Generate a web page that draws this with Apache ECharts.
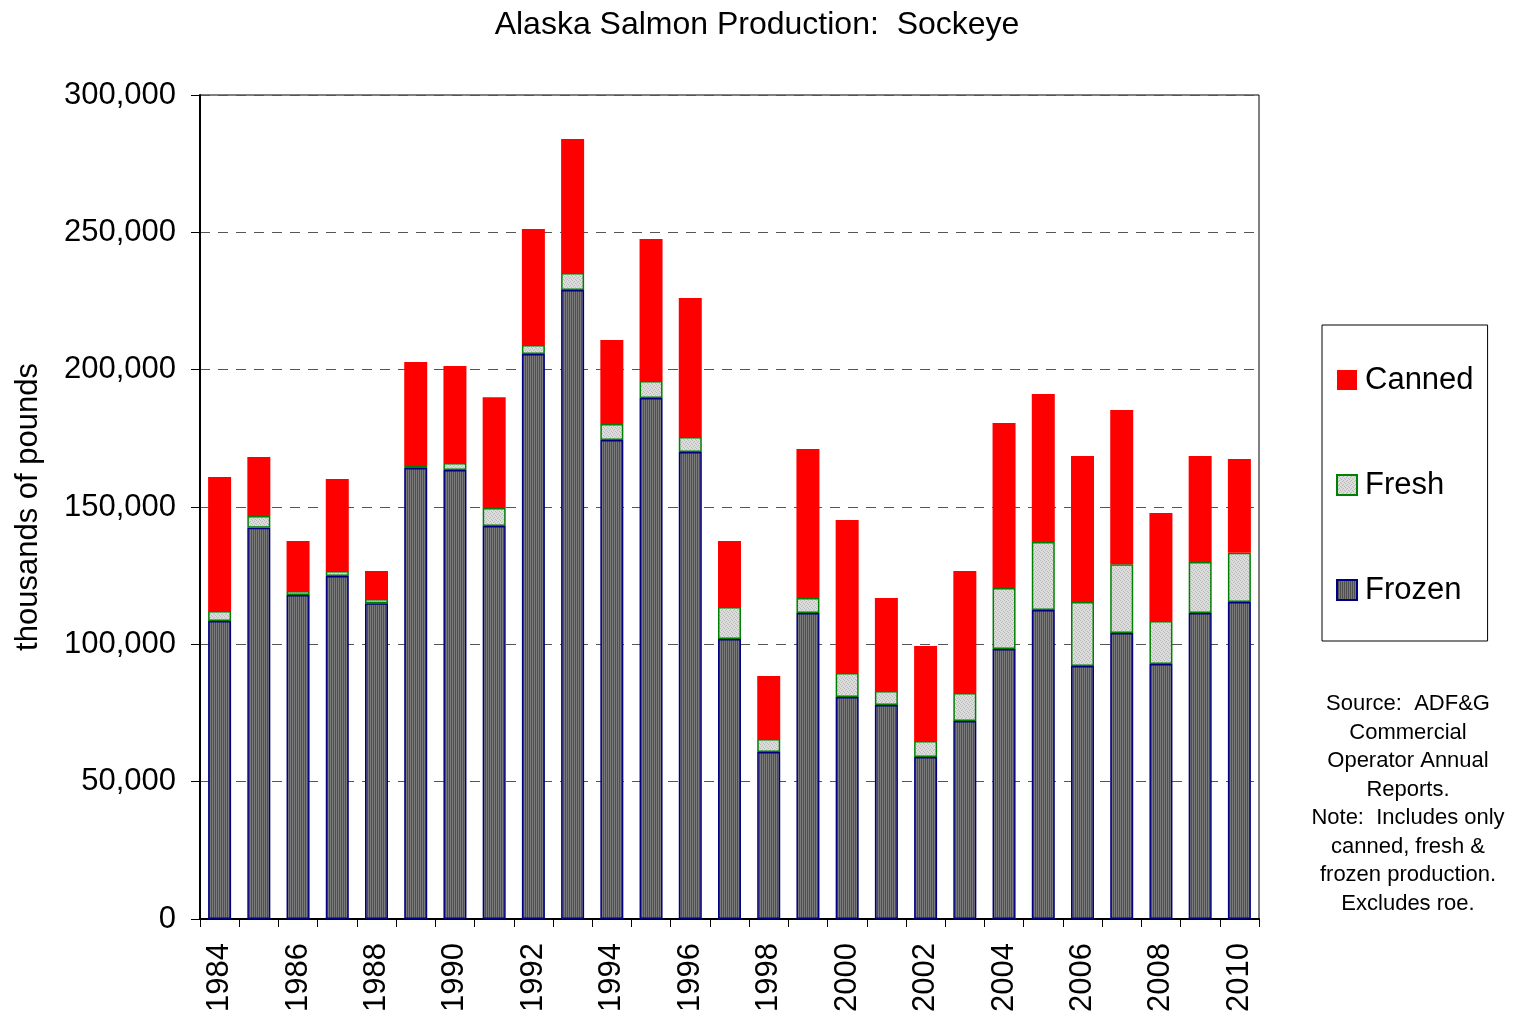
<!DOCTYPE html>
<html>
<head>
<meta charset="utf-8">
<title>Alaska Salmon Production: Sockeye</title>
<script src="https://cdn.jsdelivr.net/npm/echarts@6/dist/echarts.min.js"></script>
<style>
  html, body { margin: 0; padding: 0; background: #fff; }
  #chart { width: 1514px; height: 1016px; }
</style>
</head>
<body>
<div id="chart"></div>
<script>
// thousands of pounds
const years = ['1984', '1985', '1986', '1987', '1988', '1989', '1990', '1991', '1992', '1993',
  '1994', '1995', '1996', '1997', '1998', '1999', '2000', '2001', '2002', '2003',
  '2004', '2005', '2006', '2007', '2008', '2009', '2010']
const frozen = [108500, 142400, 118000, 124900, 115000, 164200, 163500, 143100, 205700, 229000,
  174400, 189700, 170000, 101900, 60800, 111400, 80800, 77900, 59000, 72100,
  98300, 112500, 92100, 104100, 92800, 111400, 115400]
const fresh = [3600, 4300, 1400, 1800, 1500, 1100, 2500, 6500, 3300, 6200,
  5800, 6200, 5500, 11700, 4700, 5500, 8800, 5100, 5800, 10200,
  22200, 24800, 23300, 25100, 15700, 18600, 17900]
const canned = [48800, 21500, 18200, 33500, 10200, 37500, 35300, 40400, 42200, 48800,
  30600, 51700, 50600, 24000, 23000, 54200, 55700, 33900, 34600, 44400,
  60100, 53800, 53200, 56100, 39300, 38600, 34200]
const noteLines = ['Source:  ADF&G', 'Commercial', 'Operator Annual', 'Reports.',
  'Note:  Includes only', 'canned, fresh &', 'frozen production.', 'Excludes roe.']

const FONT = '"Liberation Sans", Arial, sans-serif'

// striped fill for frozen, speckled fill for fresh
function makePattern(type) {
  const c = document.createElement('canvas')
  c.width = 4
  c.height = 4
  const ctx = c.getContext('2d')
  if (type === 'frozen') {
    ctx.fillStyle = '#505050'
    ctx.fillRect(0, 0, 4, 4)
    ctx.fillStyle = '#7a7a7a'
    ctx.fillRect(0, 0, 1, 4)
    ctx.fillRect(2, 0, 1, 4)
  } else {
    ctx.fillStyle = '#dcdcdc'
    ctx.fillRect(0, 0, 4, 4)
    ctx.fillStyle = '#b8b8b8'
    ctx.fillRect(0, 0, 1, 1)
    ctx.fillRect(2, 1, 1, 1)
    ctx.fillRect(1, 2, 1, 1)
    ctx.fillRect(3, 3, 1, 1)
  }
  return { image: c, repeat: 'repeat' }
}

const chart = echarts.init(document.getElementById('chart'), null, { renderer: 'canvas' })

chart.setOption({
  animation: false,
  textStyle: { fontFamily: FONT },
  title: {
    text: 'Alaska Salmon Production:  Sockeye',
    left: 'center',
    top: 4,
    textStyle: { fontFamily: FONT, fontSize: 32, fontWeight: 'normal', color: '#000' }
  },
  grid: {
    left: 200,
    right: 255,
    top: 95,
    bottom: 97,
    outerBoundsMode: 'none',
    show: true,
    borderColor: '#000',
    borderWidth: 1
  },
  legend: {
    data: ['Canned', 'Fresh', 'Frozen'],
    orient: 'vertical',
    left: 1322,
    top: 325,
    padding: [38, 14, 34, 14],
    itemGap: 71,
    itemWidth: 20,
    itemHeight: 20,
    borderColor: '#000',
    borderWidth: 1,
    icon: 'rect',
    textStyle: { fontFamily: FONT, fontSize: 31, color: '#000', lineHeight: 34, padding: [0, 0, 0, 3] }
  },
  xAxis: {
    type: 'category',
    data: years,
    boundaryGap: true,
    axisLine: { lineStyle: { color: '#000', width: 2 } },
    axisTick: { show: true, interval: 0, length: 8, lineStyle: { color: '#000' } },
    axisLabel: {
      interval: 1,
      rotate: 90,
      margin: 24,
      fontFamily: FONT,
      fontSize: 31,
      color: '#000'
    }
  },
  yAxis: {
    type: 'value',
    min: 0,
    max: 300000,
    interval: 50000,
    name: 'thousands of pounds',
    nameLocation: 'middle',
    nameGap: 156,
    nameTextStyle: { fontFamily: FONT, fontSize: 31, color: '#000' },
    axisLine: { show: true, lineStyle: { color: '#000', width: 2 } },
    axisTick: { show: true, length: 9, lineStyle: { color: '#000' } },
    axisLabel: {
      margin: 24,
      fontFamily: FONT,
      fontSize: 31,
      color: '#000',
      formatter: v => v.toLocaleString('en-US')
    },
    splitLine: { lineStyle: { color: '#555', type: [10, 8], width: 1 } }
  },
  series: [{
    name: 'Frozen',
    type: 'bar',
    stack: 'total',
    barWidth: 23,
    data: frozen,
    itemStyle: { color: makePattern('frozen'), borderColor: '#000080', borderWidth: 1.5 }
  }, {
    name: 'Fresh',
    type: 'bar',
    stack: 'total',
    barWidth: 23,
    data: fresh,
    itemStyle: { color: makePattern('fresh'), borderColor: '#008000', borderWidth: 1.5 }
  }, {
    name: 'Canned',
    type: 'bar',
    stack: 'total',
    barWidth: 23,
    data: canned,
    itemStyle: { color: '#ff0000' }
  }],
  graphic: [{
    type: 'text',
    x: 1408,
    y: 690,
    style: {
      text: noteLines.join('\n'),
      textAlign: 'center',
      textVerticalAlign: 'top',
      font: '22px ' + FONT,
      lineHeight: 28.5,
      fill: '#000'
    }
  }]
})
</script>
</body>
</html>
